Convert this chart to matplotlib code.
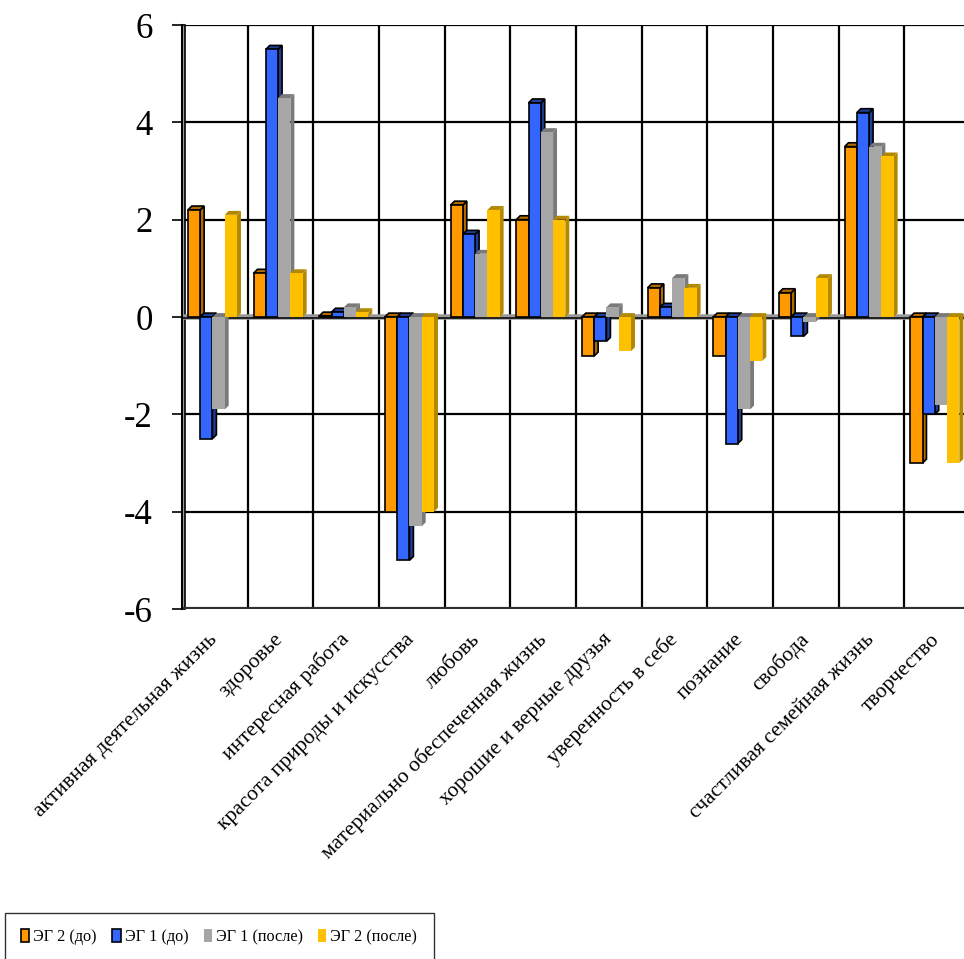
"""Excel-style pseudo-3D grouped bar chart of value shifts (ЭГ 1 / ЭГ 2, до / после)."""

import matplotlib
matplotlib.use("Agg")
import matplotlib.pyplot as plt
from matplotlib.patches import Polygon, Rectangle

plt.rcParams["font.family"] = ["Liberation Serif", "DejaVu Serif"]
plt.rcParams["axes.unicode_minus"] = False

CATEGORIES = [
    "активная деятельная жизнь", "здоровье", "интересная работа",
    "красота природы и искусства", "любовь", "материально обеспеченная жизнь",
    "хорошие и верные друзья", "уверенность в себе", "познание", "свобода",
    "счастливая семейная жизнь", "творчество",
]
SERIES = ["ЭГ 2 (до)", "ЭГ 1 (до)", "ЭГ 1 (после)", "ЭГ 2 (после)"]
EG2_BEFORE = [2.2, 0.9, 0.02, -4.0, 2.3, 2.0, -0.8, 0.6, -0.8, 0.5, 3.5, -3.0]
EG1_BEFORE = [-2.5, 5.5, 0.1, -5.0, 1.7, 4.4, -0.5, 0.2, -2.6, -0.4, 4.2, -2.0]
EG1_AFTER = [-1.9, 4.5, 0.2, -4.3, 1.3, 3.8, 0.2, 0.8, -1.9, -0.1, 3.5, -1.8]
EG2_AFTER = [2.1, 0.9, 0.1, -4.0, 2.2, 2.0, -0.7, 0.6, -0.9, 0.8, 3.3, -3.0]
VALUES = [EG2_BEFORE, EG1_BEFORE, EG1_AFTER, EG2_AFTER]
Y_TICKS = [-6, -4, -2, 0, 2, 4, 6]

FRONT = ["#FF9900", "#3366FF", "#A6A6A6", "#FFC000"]
SIDE = ["#B36B00", "#1F3D99", "#7A7A7A", "#B38700"]
EDGED = [True, True, False, False]

BAR_W = 0.187
GROUP_OFF = 0.41
DX, DY = 0.06, 0.08

W, H = 964, 959
fig = plt.figure(figsize=(W / 100, H / 100), dpi=100)
ax = fig.add_axes([182 / W, 1 - 609 / H, 788 / W, 584 / H])
ax.set_xlim(-0.5, len(CATEGORIES) - 0.5)
ax.set_ylim(-6, 6)

# back-wall grid
for y in Y_TICKS:
    ax.axhline(y, color="black", lw=1.6, zorder=1)
for i in range(len(CATEGORIES) + 1):
    ax.axvline(i - 0.5, color="black", lw=1.6, zorder=1)

# left wall and floor shading
ax.add_patch(Rectangle((-0.5, -6), 0.05, 12, facecolor="#A0A0A0",
                       edgecolor="black", lw=1.2, zorder=2, clip_on=False))
ax.axhline(-6, color="#303030", lw=3, zorder=2)
ax.axhline(0, color="#9A9A9A", lw=4, zorder=2)
ax.axhline(-0.03, color="#202020", lw=1.4, zorder=2)

z = 3
for i in range(len(CATEGORIES)):
    for j, vals in enumerate(VALUES):
        v = vals[i]
        x0 = i - GROUP_OFF + j * BAR_W
        lo, hi = min(0, v), max(0, v)
        ec = "black" if EDGED[j] else "none"
        lw = 1.2 if EDGED[j] else 0
        side = [(x0 + BAR_W, lo), (x0 + BAR_W + DX, lo + DY),
                (x0 + BAR_W + DX, hi + DY), (x0 + BAR_W, hi)]
        top = [(x0, hi), (x0 + DX, hi + DY),
               (x0 + BAR_W + DX, hi + DY), (x0 + BAR_W, hi)]
        ax.add_patch(Polygon(side, closed=True, facecolor=SIDE[j],
                             edgecolor=ec, lw=lw, zorder=z))
        ax.add_patch(Polygon(top, closed=True, facecolor=SIDE[j],
                             edgecolor=ec, lw=lw, zorder=z))
        ax.bar(x0, hi - lo, bottom=lo, width=BAR_W, align="edge",
               color=FRONT[j], edgecolor=ec, linewidth=lw, zorder=z + 0.5)
        z += 1

for s in ["top", "right", "bottom"]:
    ax.spines[s].set_visible(False)
ax.spines["left"].set_linewidth(1.5)

ax.set_yticks(Y_TICKS)
ax.set_yticklabels([str(t) for t in Y_TICKS])
ax.tick_params(axis="y", length=7, width=1.2, pad=14, labelsize=25)

ax.set_xticks(range(len(CATEGORIES)))
ax.set_xticklabels(CATEGORIES, rotation=45, ha="right", va="center",
                   rotation_mode="anchor", fontsize=15.5)
ax.tick_params(axis="x", length=0, pad=20)

handles = [Rectangle((0, 0), 1, 1, facecolor=FRONT[j],
                     edgecolor="black" if EDGED[j] else "none", lw=1.2)
           for j in range(len(SERIES))]
fig.legend(handles, SERIES, loc="upper left", ncol=4,
           bbox_to_anchor=(5 / W, 1 - 913 / H), fontsize=11.7,
           frameon=True, fancybox=False, edgecolor="black",
           handlelength=0.5, handleheight=0.8, handletextpad=0.25,
           columnspacing=0.95, borderpad=1.0, borderaxespad=0)

fig.savefig("out.png", dpi=100)
